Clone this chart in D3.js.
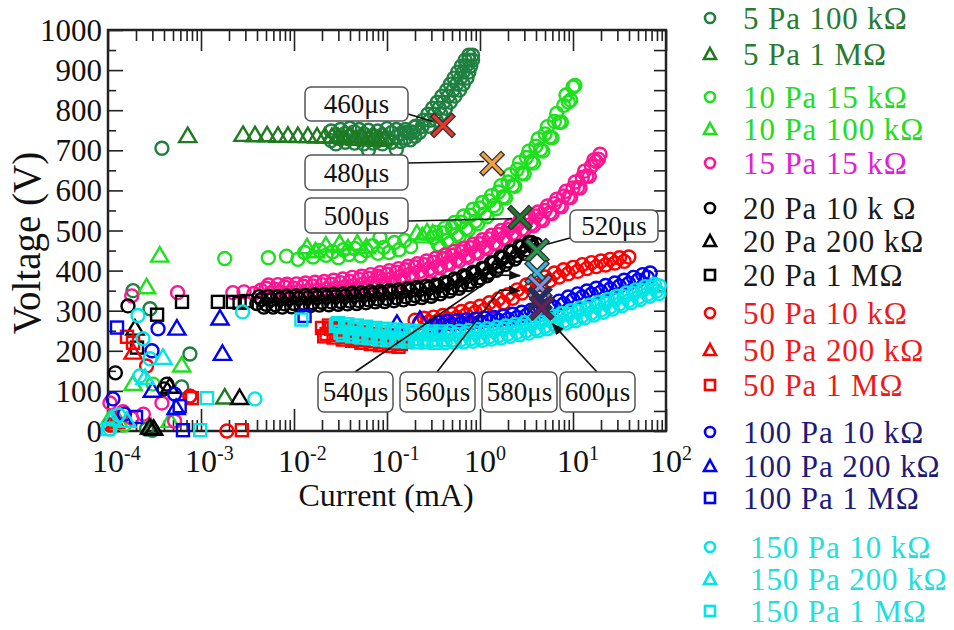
<!DOCTYPE html>
<html><head><meta charset="utf-8">
<script src="https://cdn.jsdelivr.net/npm/d3@7"></script>
<style>body{margin:0;background:#fff}svg{display:block}text{font-family:"Liberation Serif","Times New Roman",serif}</style>
</head><body><svg id="c" width="954" height="630"></svg>
<script>
// ---------------- DATA (current in mA, voltage in V) ----------------
const pa5_100k = [[3.8e-4,705],[1.86e-4,350],[2.83e-4,305],[7.6e-4,192],[6.2e-4,110],[2.6e-4,5],[3.0e-4,2],
 [2.51e-2,724],[2.51e-2,748],[2.82e-2,738],[2.82e-2,716],[3.16e-2,752],[3.16e-2,729],[3.55e-2,720],[3.55e-2,742],[3.98e-2,735],[3.98e-2,755],[4.47e-2,718],[4.47e-2,746],[5.01e-2,732],[5.01e-2,752],[5.62e-2,716],[5.62e-2,741],
 [6.31e-2,728],[6.31e-2,750],[6.31e-2,700],[7.08e-2,737],[7.08e-2,718],[7.94e-2,748],[7.94e-2,724],[8.91e-2,716],[8.91e-2,738],[0.100,730],[0.100,754],[0.112,720],[0.112,744],[0.126,733],[0.126,752],[0.126,702],[0.141,722],[0.141,742],[0.158,730],[0.158,752],[0.178,726],[0.178,746],[0.200,735],[0.200,758],
 [0.162,745],[0.191,745],[0.224,745],[0.204,760],[0.240,760],[0.282,760],[0.245,775],[0.288,775],[0.339,775],[0.275,790],[0.324,790],[0.380,790],[0.309,805],[0.363,805],[0.427,805],[0.347,820],[0.407,820],[0.479,820],[0.389,835],[0.457,835],[0.537,835],
 [0.437,850],[0.513,850],[0.603,850],[0.479,865],[0.562,865],[0.661,865],[0.525,880],[0.617,880],[0.724,880],[0.575,895],[0.661,895],[0.759,895],[0.631,910],[0.708,910],[0.794,910],[0.692,925],[0.759,925],[0.832,925],[0.759,937],[0.832,937]];
const pa5_1M = [[7.2e-4,735],[1.8e-3,83],[2.9e-4,8],
 [2.83e-3,738],[3.81e-3,737],[5.13e-3,737],[6.73e-3,736],[8.61e-3,736],[1.10e-2,735],[1.41e-2,735],[1.77e-2,734],[2.15e-2,734],[2.56e-2,733],[2.97e-2,733],[3.4e-2,730],[4.0e-2,736],[4.6e-2,728],[5.4e-2,734],[6.25e-2,727],[7.2e-2,733],[8.3e-2,726],[9.5e-2,731]];
const pa10_15k = [[1.8e-3,430],[3.05e-4,117],[1.5e-4,15],
 [5.3e-3,432],[8.3e-3,436],[1.1e-2,428],[1.3e-2,445],[1.6e-2,434],[1.9e-2,450],[2.2e-2,438],[2.6e-2,447],[3.0e-2,432],[3.4e-2,452],[3.9e-2,440],[4.5e-2,455],[5.2e-2,437],[6.0e-2,450],[7.0e-2,462],[8.0e-2,443],[8.4e-2,482],[9.2e-2,458],[0.105,445],[0.12,470],[0.135,452],[0.155,475],[0.18,460],
 [0.316,482],[0.355,465],[0.398,494],[0.447,476],[0.501,507],[0.562,490],[0.631,521],[0.708,505],[0.794,538],[0.891,523],[1.00,556],[1.12,541],[1.26,574],[1.41,562],[1.58,596],[1.78,584],[2.00,621],[2.24,612],[2.51,652],[2.82,643],[3.16,682],[3.55,672],[3.98,710],[4.47,702],[5.01,741],[5.62,733],[6.31,772],[7.08,770],[7.94,812],[8.91,820],[10.0,858],[10.5,862],
 [0.335,495],[0.376,457],[0.422,507],[0.473,469],[0.531,520],[0.596,484],[0.668,536],[0.750,501],[0.841,553],[0.944,517],[1.06,570],[1.19,534],[1.33,587],[1.50,555],[1.68,612],[1.88,581],[2.11,639],[2.37,610],[2.66,670],[2.99,641],[3.35,698],[3.76,668],[4.22,728],[4.73,698],[5.31,759],[5.96,731],[6.68,792],[7.50,770],[8.41,838],[9.44,825]];
const pa10_100k = [[3.6e-4,437],[2.6e-4,358],[6.2e-4,163],[1.86e-4,117],[1.05e-4,32],[1.3e-4,25],[4.65e-4,25],
 [1.38e-2,458],[1.7e-2,448],[2.2e-2,462],[3.1e-2,467],[3.8e-2,455],[4.8e-2,467],[6.0e-2,458],[0.21,492],[0.24,485],[0.27,495],[0.31,492]];
const pa15_15k = [[1.8e-4,337],[5.6e-4,345],[1.05e-4,70],[3.8e-4,70],[7.6e-4,87],[1.8e-4,32],[2.4e-4,42],[5.2e-4,25],[1.45e-4,48],
 [2.2e-3,345],[2.9e-3,347],[3.7e-3,343],[4.4e-3,351],[8.4e-2,382],[0.138,372],
 [5.01e-3,356],[5.62e-3,344],[6.31e-3,353],[7.08e-3,347],[7.94e-3,359],[8.91e-3,345],
 [1.00e-2,356],[1.12e-2,348],[1.26e-2,361],[1.41e-2,350],[1.58e-2,362],[1.78e-2,351],[2.00e-2,365],[2.24e-2,354],[2.51e-2,366],[2.82e-2,356],[3.16e-2,370],[3.55e-2,359],[3.98e-2,373],[4.47e-2,363],[5.01e-2,378],[5.62e-2,367],[6.31e-2,381],[7.08e-2,370],[7.94e-2,386],[8.91e-2,375],
 [0.100,391],[0.112,380],[0.126,396],[0.141,386],[0.158,402],[0.178,391],[0.200,409],[0.224,398],[0.251,415],[0.282,404],[0.316,421],[0.355,411],[0.398,430],[0.447,419],[0.501,438],[0.562,428],[0.631,447],[0.708,437],[0.794,457],[0.891,446],
 [1.00,467],[1.12,458],[1.26,479],[1.41,469],[1.58,490],[1.78,481],[2.00,502],[2.24,493],[2.51,514],[2.82,504],[3.16,525],[3.55,516],[3.98,536],[4.47,528],[5.01,550],[5.62,544],[6.31,567],[7.08,561],[7.94,586],[8.91,583],
 [10.0,606],[11.2,607],[12.6,632],[14.1,636],[15.8,661],[17.8,672],[19.5,690],
 [5.31e-3,364],[5.96e-3,337],[6.68e-3,365],[7.50e-3,338],[8.41e-3,366],[9.44e-3,339],[1.06e-2,367],[1.19e-2,340],[1.33e-2,369],[1.50e-2,342],[1.68e-2,371],[1.88e-2,344],[2.11e-2,373],[2.37e-2,346],[2.66e-2,376],[2.99e-2,349],[3.35e-2,379],[3.76e-2,353],[4.22e-2,383],[4.73e-2,357],[5.31e-2,386],[5.96e-2,360],[6.68e-2,390],[7.50e-2,364],[8.41e-2,395],[9.44e-2,369],
 [0.106,400],[0.119,375],[0.133,405],[0.150,380],[0.168,411],[0.188,386],[0.211,417],[0.237,393],[0.266,424],[0.299,399],[0.335,431],[0.376,407],[0.422,439],[0.473,416],[0.531,448],[0.596,424],[0.668,456],[0.750,433],[0.841,466],[0.944,443],
 [1.06,477],[1.19,455],[1.33,488],[1.50,466],[1.68,500],[1.88,478],[2.11,512],[2.37,490],[2.66,523],[2.99,501],[3.35,535],[3.76,512],[4.22,546],[4.73,525],[5.31,561],[5.96,542],[6.68,578],[7.50,559],[8.41,598],[9.44,582],[10.6,621],[11.9,606],[13.3,648],[15.0,635],[16.8,676],[18.8,678]];
const pa20_10k = [[1.64e-4,312],[1.2e-4,145],[4.3e-4,117],[4.0e-4,105],
 [3.98e-3,318],[4.47e-3,328],[5.01e-3,316],[5.62e-3,327],[6.31e-3,315],[7.08e-3,329],[7.94e-3,317],[8.91e-3,330],
 [1.00e-2,318],[1.12e-2,331],[1.26e-2,319],[1.41e-2,332],[1.58e-2,320],[1.78e-2,333],[2.00e-2,321],[2.24e-2,334],[2.51e-2,322],[2.82e-2,335],[3.16e-2,323],[3.55e-2,336],[3.98e-2,324],[4.47e-2,338],[5.01e-2,325],[5.62e-2,339],[6.31e-2,327],[7.08e-2,341],[7.94e-2,329],[8.91e-2,343],
 [0.100,330],[0.112,345],[0.126,332],[0.141,347],[0.158,335],[0.178,350],[0.200,338],[0.224,353],[0.251,341],[0.282,356],[0.316,344],[0.355,361],[0.398,350],[0.447,368],[0.501,357],[0.562,375],[0.631,364],[0.708,384],[0.794,373],[0.891,393],
 [1.00,382],[1.12,405],[1.26,396],[1.41,419],[1.58,411],[1.78,432],[2.00,424],[2.24,446],[2.51,438],[2.82,459],[3.16,452],[3.55,470],[3.98,466],
 [4.22e-3,335],[4.73e-3,309],[5.31e-3,335],[5.96e-3,309],[6.68e-3,335],[7.50e-3,309],[8.41e-3,336],[9.44e-3,310],[1.06e-2,337],[1.19e-2,312],[1.33e-2,338],[1.50e-2,313],[1.68e-2,339],[1.88e-2,314],[2.11e-2,340],[2.37e-2,315],[2.66e-2,341],[2.99e-2,316],[3.35e-2,342],[3.76e-2,317],[4.22e-2,344],[4.73e-2,318],[5.31e-2,345],[5.96e-2,320],[6.68e-2,347],[7.50e-2,322],[8.41e-2,348],[9.44e-2,323],
 [0.106,350],[0.119,325],[0.133,352],[0.150,327],[0.168,355],[0.188,330],[0.211,358],[0.237,333],[0.266,361],[0.299,336],[0.335,364],[0.376,342],[0.422,371],[0.473,349],[0.531,379],[0.596,356],[0.668,387],[0.750,365],[0.841,396],[0.944,375],
 [1.06,406],[1.19,387],[1.33,420],[1.50,401],[1.68,434],[1.88,415],[2.11,448],[2.37,429],[2.66,460],[2.99,443],[3.35,470],[3.76,458]];
const pa20_200k = [[1.95e-4,255],[2.6e-3,82],[4.6e-4,110],[2.8e-4,8],[3.1e-4,5]];
const pa20_1M = [[2.05e-4,208],[3.37e-4,290],[6.25e-4,322],[1.52e-3,322],[2.2e-3,322],[2.6e-3,320],[3.1e-3,324]];
const pa50_10k = [[1.9e-3,0],[7.6e-4,87],[2.6e-4,162],[1.05e-4,15],
 [0.200,276],[0.224,270],[0.251,281],[0.282,272],[0.316,284],[0.355,275],[0.398,288],[0.447,279],[0.501,292],[0.562,283],[0.631,298],[0.708,290],[0.794,305],[0.891,296],[1.00,311],[1.12,302],[1.26,320],[1.41,310],[1.58,329],[1.78,320],[2.00,340],[2.24,331],[2.51,352],[2.82,344],[3.16,364],[3.55,355],[3.98,374],[4.47,365],[5.01,384],[5.62,375],[6.31,394],[7.08,384],[7.94,402],[8.91,392],[10.0,408],[11.2,398],[12.6,415],[14.1,405],[15.8,420],[17.8,410],[20.0,424],[22.4,414],[25.1,428],[28.2,419],[31.6,432],[35.5,423],[39.8,434]];
const pa50_200k = [[1.86e-4,195],[1.2e-4,22]];
const pa50_1M = [[1.86e-4,220],[8.0e-4,82],[2.75e-3,2],[1.6e-4,235],
 [2.00e-2,257],[2.11e-2,236],[2.24e-2,242],[2.37e-2,263],[2.51e-2,255],[2.66e-2,233],[2.82e-2,240],[2.99e-2,257],[3.16e-2,249],[3.35e-2,228],[3.55e-2,234],[3.76e-2,254],[3.98e-2,246],[4.22e-2,225],[4.47e-2,230],[4.73e-2,250],[5.01e-2,242],[5.31e-2,220],[5.62e-2,227],[5.96e-2,246],
 [6.31e-2,239],[6.68e-2,217],[7.08e-2,224],[7.50e-2,242],[7.94e-2,235],[8.41e-2,214],[8.91e-2,221],[9.44e-2,240],[0.100,233],[0.106,212],[0.112,219],[0.119,238],[0.126,231],[0.133,210],[0.141,217],[0.150,236],[0.158,222]];
const pa100_10k = [[3.45e-4,255],[2.97e-4,200],[1.13e-4,80],[1.5e-4,42],[5.2e-4,92],
 [0.355,271],[0.398,264],[0.447,273],[0.501,266],[0.562,275],[0.631,268],[0.708,277],[0.794,270],[0.891,279],[1.00,272],[1.12,281],[1.26,274],[1.41,283],[1.58,276],[1.78,286],[2.00,279],[2.24,291],[2.51,283],[2.82,296],[3.16,288],[3.55,301],[3.98,293],[4.47,306],[5.01,299],[5.62,315],[6.31,308],[7.08,324],[7.94,317],[8.91,334],[10.0,327],[11.2,342],[12.6,334],[14.1,349],[15.8,341],[17.8,356],[20.0,347],[22.4,363],[25.1,354],[28.2,369],[31.6,361],[35.5,376],[39.8,368],[44.7,383],[50.1,376],[56.2,390],[63.1,383],[67.6,394]];
const pa100_200k = [[5.5e-4,255],[1.6e-3,280],[1.7e-3,192],[3.0e-4,100],[5.4e-4,57],[0.128,267],[0.226,277],[0.29,256],[0.33,262]];
const pa100_1M = [[1.25e-4,258],[5.9e-4,62],[6.4e-4,2],[1.3e-2,287],[2.0e-4,35]];
const pa150_10k = [[2.1e-4,288],[2.38e-4,230],[2.83e-4,180],[2.8e-3,297],[3.8e-3,80],[2.2e-4,137],[1.05e-4,5],[1.3e-4,40],
 [0.447,240],[0.501,227],[0.562,241],[0.631,228],[0.708,243],[0.794,230],[0.891,245],[1.00,232],[1.12,247],[1.26,235],[1.41,250],[1.58,238],[1.78,254],[2.00,242],[2.24,258],[2.51,246],[2.82,262],[3.16,250],[3.55,266],[3.98,255],[4.47,272],[5.01,261],[5.62,278],[6.31,267],[7.08,284],[7.94,274],[8.91,291],[10.0,281],[11.2,298],[12.6,287],[14.1,305],[15.8,294],[17.8,312],[20.0,302],[22.4,319],[25.1,309],[28.2,327],[31.6,317],[35.5,335],[39.8,325],[44.7,343],[50.1,333],[56.2,351],[63.1,341],[70.8,359],[79.4,349],[85.0,362],
 [0.422,220],[0.473,248],[0.531,221],[0.596,249],[0.668,222],[0.750,251],[0.841,224],[0.944,253],[1.06,226],[1.19,255],[1.33,229],[1.50,258],[1.68,232],[1.88,262],[2.11,236],[2.37,266],[2.66,240],[2.99,270],[3.35,244],[3.76,275],[4.22,250],[4.73,280],[5.31,255],[5.96,286],[6.68,261],[7.50,293],[8.41,269],[9.44,300],
 [10.6,275],[11.9,307],[13.3,282],[15.0,314],[16.8,289],[18.8,321],[21.1,296],[23.7,328],[26.6,304],[29.9,336],[33.5,312],[37.6,344],[42.2,320],[47.3,352],[53.1,328],[59.6,360],[66.8,336],[75.0,366],[84.1,343]];
const pa150_200k = [[3.9e-4,182],[2.5e-4,132],[1.1e-4,30],[1.6e-4,25]];
const pa150_1M = [[1.16e-3,82],[9.8e-4,2],[1.2e-2,278],[2.9e-2,267],[1.0e-4,5],
 [2.82e-2,262],[3.16e-2,247],[3.55e-2,259],[3.98e-2,244],[4.47e-2,256],[5.01e-2,241],[5.62e-2,254],[6.31e-2,238],[7.08e-2,251],[7.94e-2,236],[8.91e-2,248],[0.100,233],[0.112,246],[0.126,231],[0.141,245],[0.158,230],[0.178,243],[0.200,229],[0.224,242],[0.251,228],[0.282,241],[0.316,227],[0.355,241],[0.398,227],
 [2.99e-2,269],[3.35e-2,239],[3.76e-2,266],[4.22e-2,236],[4.73e-2,263],[5.31e-2,233],[5.96e-2,260],[6.68e-2,231],[7.50e-2,257],[8.41e-2,228],[9.44e-2,255],[0.106,226],[0.119,253],[0.133,224],[0.150,251],[0.168,223],[0.188,250],[0.211,221],[0.237,249],[0.266,221],[0.299,248],[0.335,220],[0.376,248]];

const seriesLabels = ["5 Pa 100 kΩ","5 Pa 1 MΩ","10 Pa 15 kΩ","10 Pa 100 kΩ","15 Pa 15 kΩ","20 Pa 10 k Ω","20 Pa 200 kΩ","20 Pa 1 MΩ","50 Pa 10 kΩ","50 Pa 200 kΩ","50 Pa 1 MΩ","100 Pa 10 kΩ","100 Pa 200 kΩ","100 Pa 1 MΩ","150 Pa 10 kΩ","150 Pa 200 kΩ","150 Pa 1 MΩ"];

const markTimes = ["460μs","480μs","500μs","520μs","540μs","560μs","580μs","600μs"];
const markCurrent = [0.40,1.35,2.69,4.1,4.1,4.4,4.4,4.6];
const markVoltage = [762,667,532,450,395,360,330,307];

const yTickValues = [0,100,200,300,400,500,600,700,800,900,1000];
const xDecades = [-4,-3,-2,-1,0,1,2];

// ---------------- STYLE / LAYOUT ----------------
const seriesData = [pa5_100k,pa5_1M,pa10_15k,pa10_100k,pa15_15k,pa20_10k,pa20_200k,pa20_1M,pa50_10k,pa50_200k,pa50_1M,pa100_10k,pa100_200k,pa100_1M,pa150_10k,pa150_200k,pa150_1M];
const shapes = ["circle","triangle","circle","triangle","circle","circle","triangle","square","circle","triangle","square","circle","triangle","square","circle","triangle","square"];
const markColors = ["#1f8040","#1e7a1e","#1ee01e","#1ee01e","#ff1493","#000","#000","#000","#ff0000","#ff0000","#ff0000","#0000ff","#0000ff","#0000ff","#00e6e6","#00e6e6","#00e6e6"];
const textColors = ["#2a7a30","#2a7a30","#22dd22","#22dd22","#e020d8","#1a1a1a","#1a1a1a","#1a1a1a","#ee1a1a","#ee1a1a","#ee1a1a","#1c1c78","#1c1c78","#1c1c78","#22dede","#22dede","#22dede"];
const legendY = [18,54,97,129,163,208,241,275,313,350,385,432,466,498,547,579,611];
const xColors = ["#e8382e","#f0a040","#1f7a30","#2a9850","#3cb4d8","#8a8ee0","#28287a","#6a2060"];
const boxes = [
 {x:305,y:87,w:103,h:34, line:[[408,114]], end:[-10,-4], arrow:false},
 {x:305,y:155,w:103,h:35, line:[[408,163]], end:[-8,-2], arrow:false},
 {x:305,y:198,w:103,h:35, line:[[408,221]], end:[-8,1], arrow:false},
 {x:570,y:210,w:88,h:32, line:[[570,238]], end:[9,-6], arrow:false},
 {x:318,y:372,w:75,h:40, line:[[355,372],[497,275]], end:[-17,3], arrow:true},
 {x:400,y:372,w:75,h:40, line:[[437,372],[500,290]], end:[-20,4], arrow:true},
 {x:482,y:372,w:75,h:40, line:null},
 {x:560,y:372,w:75,h:40, line:[[597,372]], end:[11,16], arrow:true}
];

const svg = d3.select("#c");
const x = d3.scaleLog().domain([1e-4,1e2]).range([108,666]);
const y = d3.scaleLinear().domain([0,1000]).range([431,30]);

svg.append("defs").append("marker").attr("id","ah").attr("viewBox","0 0 10 10").attr("refX",9).attr("refY",5)
  .attr("orient","auto-start-reverse").attr("markerUnits","userSpaceOnUse")
  .attr("markerWidth",16).attr("markerHeight",12)
  .append("path").attr("d","M0,1L10,5L0,9Z").attr("fill","#111");

// ticks
const logTicks = [];
for (let d=-4; d<2; d++) for (let m=1; m<10; m++) logTicks.push(m*Math.pow(10,d));
logTicks.push(100);
const isMajor = v => Math.abs(Math.log10(v) - Math.round(Math.log10(v))) < 1e-6;
const lin50 = d3.range(0,1001,50);

const gb = svg.append("g").attr("transform","translate(0,431)")
  .call(d3.axisBottom(x).tickValues(logTicks).tickSize(-11).tickFormat("").tickSizeOuter(0));
gb.selectAll(".tick line").attr("y2", d => isMajor(d) ? -22 : -11);
const gt = svg.append("g").attr("transform","translate(0,30)")
  .call(d3.axisTop(x).tickValues(logTicks).tickSize(-11).tickFormat("").tickSizeOuter(0));
gt.selectAll(".tick line").attr("y2", d => isMajor(d) ? 21 : 11);
const gl = svg.append("g").attr("transform","translate(108,0)")
  .call(d3.axisLeft(y).tickValues(lin50).tickSize(-8).tickPadding(6)
    .tickFormat(d => yTickValues.includes(d) ? d : "").tickSizeOuter(0));
gl.selectAll(".tick line").attr("x2", d => d % 100 === 0 ? 15 : 8);
gl.selectAll(".tick text").style("font-size","31px").attr("fill","#111").attr("dy","0.34em");
const gr = svg.append("g").attr("transform","translate(666,0)")
  .call(d3.axisRight(y).tickValues(lin50).tickSize(-12).tickFormat("").tickSizeOuter(0));
[gb,gt,gl,gr].forEach(g => { g.select(".domain").remove(); g.selectAll(".tick line").attr("stroke","#222").attr("stroke-width",1.6); });

svg.append("rect").attr("x",108).attr("y",30).attr("width",558).attr("height",401)
  .attr("fill","none").attr("stroke","#222").attr("stroke-width",2.5);

// x tick labels 10^n
xDecades.forEach(d => {
  const t = svg.append("text").attr("x", x(Math.pow(10,d)) - 16).attr("y",472)
    .style("font-size","32px").attr("fill","#111");
  t.append("tspan").text("10");
  t.append("tspan").attr("dy",-12).style("font-size","20px").text(d < 0 ? "-" + (-d) : String(d));
});

// axis titles
svg.append("text").attr("transform","translate(40,243) rotate(-90)").attr("text-anchor","middle")
  .style("font-size","39px").attr("fill","#111").text("Voltage (V)");
svg.append("text").attr("x",386).attr("y",506).attr("text-anchor","middle")
  .style("font-size","32px").attr("fill","#111").text("Current (mA)");

// markers
function addMarks(g, data, shape, color, size) {
  if (shape === "circle") {
    g.selectAll("circle").data(data).join("circle")
      .attr("cx", d => x(d[0])).attr("cy", d => y(d[1])).attr("r", size)
      .attr("fill","none").attr("stroke",color).attr("stroke-width",2.4);
  } else if (shape === "square") {
    g.selectAll("rect").data(data).join("rect")
      .attr("x", d => x(d[0]) - size).attr("y", d => y(d[1]) - size)
      .attr("width", size*2).attr("height", size*2)
      .attr("fill","none").attr("stroke",color).attr("stroke-width",2.4);
  } else {
    const s = size*1.2;
    g.selectAll("path").data(data).join("path")
      .attr("d", d => { const cx = x(d[0]), cy = y(d[1]);
        return `M${cx},${cy - s*1.1}L${cx + s*1.1},${cy + s*0.75}L${cx - s*1.1},${cy + s*0.75}Z`; })
      .attr("fill","none").attr("stroke",color).attr("stroke-width",2.4).attr("stroke-linejoin","miter");
  }
}
const plot = svg.append("g");
seriesData.forEach((data,i) => addMarks(plot.append("g"), data, shapes[i], markColors[i], shapes[i]==="square" ? 6 : 6.5));

// annotations
boxes.forEach((b,i) => {
  const mx = x(markCurrent[i]), my = y(markVoltage[i]);
  if (b.line) {
    const pts = b.line.concat([[mx + b.end[0], my + b.end[1]]]);
    svg.append("path").attr("d", d3.line()(pts)).attr("fill","none")
      .attr("stroke","#111").attr("stroke-width",1.6)
      .attr("marker-end", b.arrow ? "url(#ah)" : null);
  }
  svg.append("rect").attr("x",b.x).attr("y",b.y).attr("width",b.w).attr("height",b.h).attr("rx",6)
    .attr("fill","#fff").attr("stroke","#555").attr("stroke-width",1.5);
  svg.append("text").attr("x",b.x + b.w/2).attr("y",b.y + b.h/2).attr("dy","0.35em").attr("text-anchor","middle")
    .style("font-size","27px").attr("fill","#111").text(markTimes[i]);
});
markTimes.forEach((t,i) => {
  const g = svg.append("g").attr("transform",`translate(${x(markCurrent[i])},${y(markVoltage[i])})`);
  g.append("path").attr("d","M-11,-11L11,11M11,-11L-11,11").attr("stroke","#333").attr("stroke-width",6);
  g.append("path").attr("d","M-10,-10L10,10M10,-10L-10,10").attr("stroke",xColors[i]).attr("stroke-width",3.4);
});

// legend
const lg = svg.append("g");
seriesLabels.forEach((lab,i) => {
  const cy = legendY[i], cx = 710;
  const g = lg.append("g");
  if (shapes[i] === "circle") g.append("circle").attr("cx",cx).attr("cy",cy).attr("r",5).attr("fill","none").attr("stroke",markColors[i]).attr("stroke-width",2.6);
  else if (shapes[i] === "square") g.append("rect").attr("x",cx-5).attr("y",cy-5).attr("width",10).attr("height",10).attr("fill","none").attr("stroke",markColors[i]).attr("stroke-width",2.6);
  else g.append("path").attr("d",`M${cx},${cy-6}L${cx+6},${cy+5}L${cx-6},${cy+5}Z`).attr("fill","none").attr("stroke",markColors[i]).attr("stroke-width",2.6);
  g.append("text").attr("x", i >= 14 ? 750 : 743).attr("y",cy).attr("dy","0.35em")
    .style("font-size","31px").style("letter-spacing","0.9px").attr("fill",textColors[i]).text(lab);
});
</script></body></html>
